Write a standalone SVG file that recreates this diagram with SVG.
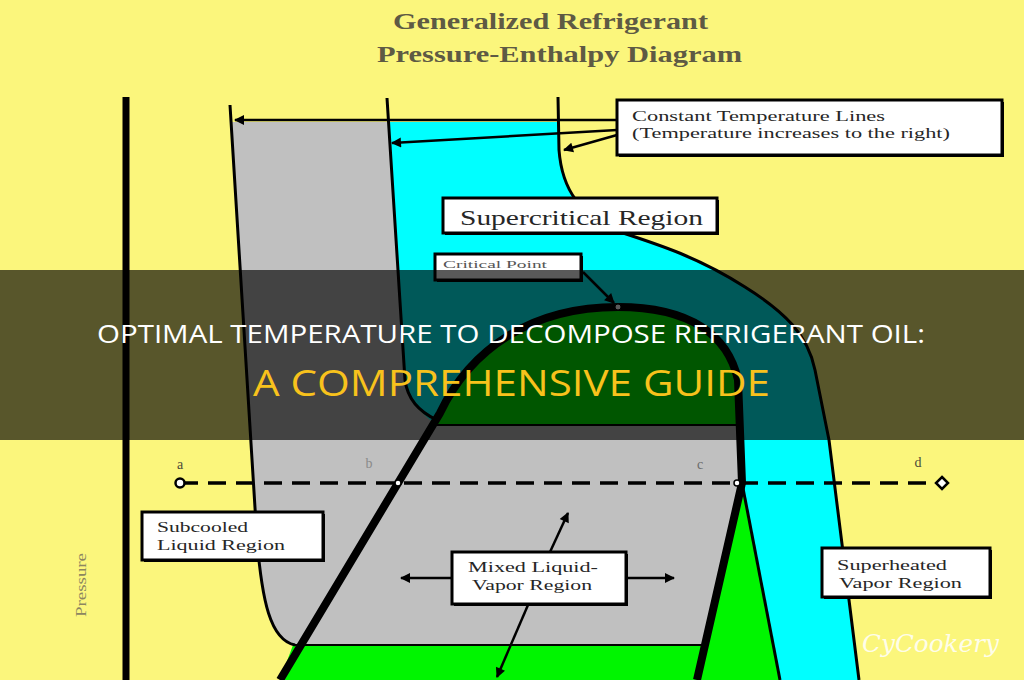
<svg xmlns="http://www.w3.org/2000/svg" width="1024" height="680" viewBox="0 0 1024 680">
<defs>
<marker id="ah" viewBox="0 0 10 10" refX="9" refY="5" markerWidth="11" markerHeight="10" markerUnits="userSpaceOnUse" orient="auto">
<path d="M0,0 L10,5 L0,10 Z" fill="#000"/>
</marker>
<style>
.ln{fill:none;stroke:#000;stroke-width:3}
.box{fill:#fff;stroke:#000;stroke-width:3}
.sh{fill:#000}
.bt{font-family:"Liberation Serif","Times New Roman",serif;fill:#262626}
.pt{font-family:"Liberation Serif",serif;font-size:14px;fill:#5a5a5a}
.ar{fill:none;stroke:#000;stroke-width:2.5;marker-end:url(#ah)}
</style>
</defs>
<rect x="0" y="0" width="1024" height="680" fill="#FBF67C"/>
<g id="title">
<text x="393" y="29" class="bt" font-size="24" font-weight="bold" textLength="315" lengthAdjust="spacingAndGlyphs" style="fill:#5e5a44">Generalized Refrigerant</text>
<text x="377" y="62" class="bt" font-size="24" font-weight="bold" textLength="365" lengthAdjust="spacingAndGlyphs" style="fill:#5e5a44">Pressure-Enthalpy Diagram</text>
</g>
<g id="regions">
<path id="cyan" d="M388,122 L558,122 L559,150 C562,190 580,215 620,232 C660,245 700,258 745,287 C785,312 808,335 815,370 L829,440 L859,680 L780,680 L742,483 L742,425 L437,425 C415,410 407,395 405,380 Z" fill="#00FFFF"/>
<path id="gray" d="M232,122 L388,122 L405,380 C407,395 415,410 437,425 L742,425 L742,483 L705,645 L295,645 C270,640 262,600 257,540 Z" fill="#C0C0C0"/>
<path id="greenTop" d="M437,425 L440,413 C470,350 530,307 618,307 C690,307 728,335 738,380 L742,425 Z" fill="#00F500"/>
<path id="greenBottom" d="M280,680 L293,645 L705,645 L742,483 L780,680 Z" fill="#00F500"/>
</g>
<g id="axis">
<line x1="126" y1="97" x2="126" y2="680" stroke="#000" stroke-width="7"/>
<text class="pt" font-size="19" transform="translate(86,585) rotate(-90)" text-anchor="middle" textLength="64" lengthAdjust="spacingAndGlyphs" style="fill:#8c8660">Pressure</text>
</g>
<g id="lines">
<path class="ln" d="M230,105 L257,540 C262,600 270,640 295,645"/>
<path class="ln" d="M387,98 L405,380 C407,395 415,410 437,420"/>
<path class="ln" d="M558,97 L559,150 C562,190 580,215 620,232 C660,245 700,258 745,287 C785,312 808,335 815,370 L829,440 L859,680"/>
<line x1="437" y1="425" x2="742" y2="425" stroke="#000" stroke-width="2"/>
<line x1="293" y1="645" x2="705" y2="645" stroke="#000" stroke-width="2"/>
<line x1="742" y1="483" x2="780" y2="680" stroke="#000" stroke-width="3"/>
<path d="M280,680 L440,413 C470,350 530,307 618,307 C690,307 728,335 738,380 L742,483 L697,680" fill="none" stroke="#000" stroke-width="8"/>
<line x1="180" y1="483" x2="940" y2="483" stroke="#000" stroke-width="3.5" stroke-dasharray="18 10"/>
<circle cx="180" cy="483" r="4.5" fill="#fff" stroke="#000" stroke-width="2.5"/>
<circle cx="398" cy="483" r="3" fill="#fff" stroke="#000" stroke-width="1.5"/>
<circle cx="737" cy="483" r="3" fill="#fff" stroke="#000" stroke-width="1.5"/>
<path d="M942,477 L948,483 L942,489 L936,483 Z" fill="#fff" stroke="#000" stroke-width="2.5"/>
<circle cx="618" cy="307" r="3" fill="#fff" stroke="#000" stroke-width="1"/>
<text x="180" y="469" class="pt" text-anchor="middle" style="fill:#4a4a3a">a</text>
<text x="369" y="468" class="pt" text-anchor="middle" style="fill:#8a8a8a">b</text>
<text x="700" y="469" class="pt" text-anchor="middle" style="fill:#6a6a6a">c</text>
<text x="918" y="467" class="pt" text-anchor="middle" style="fill:#4a4a3a">d</text>
</g>
<g id="connectors">
<line class="ar" x1="617" y1="120" x2="235" y2="120"/>
<line class="ar" x1="617" y1="130" x2="392" y2="143"/>
<line class="ar" x1="617" y1="135" x2="564" y2="150"/>
<line class="ar" x1="583" y1="272" x2="614" y2="303"/>
<line class="ar" x1="452" y1="578" x2="401" y2="578"/>
<line class="ar" x1="627" y1="578" x2="674" y2="578"/>
<line class="ar" x1="550" y1="552" x2="568" y2="513"/>
<line class="ar" x1="528" y1="605" x2="497" y2="677"/>
</g>
<g id="node-constant">
<rect x="619" y="102" width="385" height="55" class="sh"/>
<rect x="617" y="100" width="385" height="55" class="box"/>
<text x="632" y="121" class="bt" font-size="14" textLength="253" lengthAdjust="spacingAndGlyphs">Constant Temperature Lines</text>
<text x="632" y="138" class="bt" font-size="14" textLength="318" lengthAdjust="spacingAndGlyphs">(Temperature increases to the right)</text>
</g>
<g id="node-supercritical">
<rect x="445" y="200" width="274" height="35" class="sh"/>
<rect x="443" y="198" width="274" height="35" class="box"/>
<text x="460" y="225" class="bt" font-size="21" textLength="243" lengthAdjust="spacingAndGlyphs">Supercritical Region</text>
</g>
<g id="node-critical">
<rect x="437" y="256" width="146" height="26" class="sh"/>
<rect x="435" y="254" width="146" height="26" class="box"/>
<text x="443" y="268" class="bt" font-size="11" textLength="104" lengthAdjust="spacingAndGlyphs" style="fill:#555">Critical Point</text>
</g>
<g id="node-subcooled">
<rect x="144" y="514" width="181" height="48" class="sh"/>
<rect x="142" y="512" width="181" height="48" class="box"/>
<text x="157" y="532" class="bt" font-size="15" textLength="91" lengthAdjust="spacingAndGlyphs">Subcooled</text>
<text x="157" y="550" class="bt" font-size="15" textLength="128" lengthAdjust="spacingAndGlyphs">Liquid Region</text>
</g>
<g id="node-mixed">
<rect x="454" y="554" width="174" height="52" class="sh"/>
<rect x="452" y="552" width="174" height="52" class="box"/>
<text x="468" y="572" class="bt" font-size="15" textLength="130" lengthAdjust="spacingAndGlyphs">Mixed Liquid-</text>
<text x="472" y="590" class="bt" font-size="15" textLength="120" lengthAdjust="spacingAndGlyphs">Vapor Region</text>
</g>
<g id="node-superheated">
<rect x="824" y="550" width="168" height="49" class="sh"/>
<rect x="822" y="548" width="168" height="49" class="box"/>
<text x="837" y="570" class="bt" font-size="15" textLength="110" lengthAdjust="spacingAndGlyphs">Superheated</text>
<text x="839" y="588" class="bt" font-size="15" textLength="123" lengthAdjust="spacingAndGlyphs">Vapor Region</text>
</g>
<text x="862" y="652" font-family="'DejaVu Serif','Liberation Serif',serif" font-style="italic" font-size="25" fill="#ffffff" fill-opacity="0.85" textLength="137" lengthAdjust="spacingAndGlyphs">CyCookery</text>
<g id="banner">
<rect x="0" y="270" width="1024" height="170" fill="#000" fill-opacity="0.65"/>
<text x="97" y="343" font-family="'Open Sans','Liberation Sans',sans-serif" font-size="26" fill="#ffffff" textLength="828" lengthAdjust="spacingAndGlyphs">OPTIMAL TEMPERATURE TO DECOMPOSE REFRIGERANT OIL:</text>
<text x="253" y="396" font-family="'Open Sans','Liberation Sans',sans-serif" font-size="36" font-weight="500" fill="#F8C21C" textLength="517" lengthAdjust="spacingAndGlyphs">A COMPREHENSIVE GUIDE</text>
</g>
</svg>
